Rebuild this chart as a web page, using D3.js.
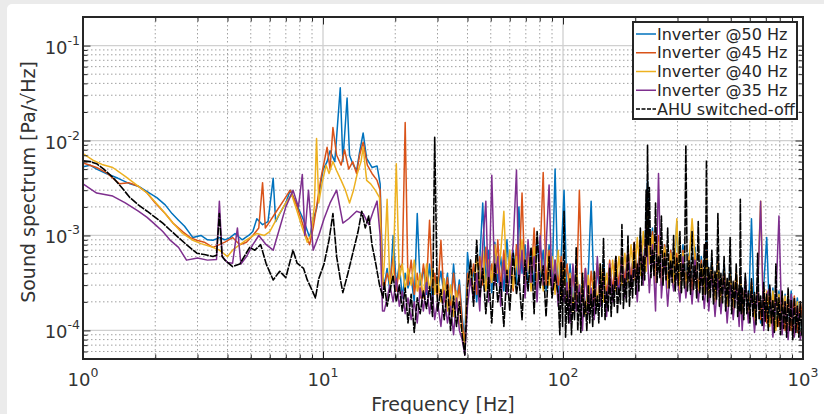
<!DOCTYPE html>
<html>
<head>
<meta charset="utf-8">
<script src="https://cdn.jsdelivr.net/npm/d3@7"></script>
<style>
  html, body { margin: 0; padding: 0; background: #ebebeb; }
  svg { display: block; font-family: "DejaVu Sans", sans-serif; }
</style>
</head>
<body>
<div id="chart"></div>
<script>
// all spectrum values are in units of 1e-4 Pa/√Hz
const seriesNames = ["Inverter @50 Hz", "Inverter @45 Hz", "Inverter @40 Hz", "Inverter @35 Hz", "AHU switched-off"];
const seriesColors = ["#0072BD", "#D95319", "#EDB120", "#7E2F8E", "#000000"];

const xTickValues = [1, 10, 100, 1000];
const yTickValues = [1e-4, 1e-3, 1e-2, 1e-1];

// low frequency part, [Hz, value]
const blueLow = [[1,53],[1.07,55],[1.14,50],[1.25,45],[1.4,40],[1.57,35],[1.7,33],[1.85,29],[2.03,25],[2.2,21],[2.35,17],[2.5,14.5],[2.65,12.5],[2.87,9.5],[3.1,10],[3.3,9],[3.48,8.9],[3.7,9.5],[3.9,9],[4.1,9.5],[4.3,10.5],[4.6,9],[4.9,10],[5.1,11],[5.3,15],[5.6,13],[5.9,14],[6.2,40],[6.35,14],[6.6,17],[7.0,22],[7.3,30],[7.6,24],[8.0,18],[8.3,14.5],[8.8,9.5],[9.1,15],[9.4,19],[10,49],[10.4,60],[10.7,78],[11.2,60],[11.8,360],[12.1,60],[12.6,280],[12.9,70],[13.3,57],[13.8,48],[14.2,75],[14.7,120],[15.2,65],[16,52],[16.8,54],[17.3,35],[17.7,4]];
const orangeLow = [[1,58],[1.07,55],[1.14,52],[1.25,46],[1.42,35],[1.55,36],[1.7,33],[1.85,28],[2.0,22],[2.2,17],[2.37,13.5],[2.6,11],[2.8,9.5],[2.98,8.9],[3.2,8.5],[3.48,7.5],[3.7,8],[3.9,8.5],[4.2,9.5],[4.5,8],[4.8,8.5],[5.1,10],[5.4,12],[5.6,36],[5.75,12],[6.0,14],[6.4,18],[6.9,24],[7.3,30],[7.7,22],[8.1,15],[8.5,10],[8.8,8],[9.1,12],[9.4,20],[9.8,40],[10.4,85],[10.7,50],[11,137],[11.4,70],[11.9,55],[12.3,80],[12.8,50],[13.3,60],[13.8,45],[14.2,70],[14.7,96],[15.3,55],[16,45],[16.8,38],[17.3,30],[17.7,3.5]];
const yellowLow = [[1,73],[1.1,62],[1.2,56],[1.33,52],[1.5,42],[1.65,35],[1.85,28],[2.05,21],[2.2,17],[2.37,13.5],[2.6,10.5],[2.87,8.9],[3.1,8.2],[3.48,7.5],[3.7,7],[4.0,6],[4.2,7],[4.5,8],[4.8,9],[5.3,10.5],[5.7,10],[6.0,11],[6.5,16],[7.0,22],[7.4,27],[7.8,18],[8.2,12],[8.6,8.5],[8.9,10],[9.2,20],[9.4,105],[9.6,22],[9.9,35],[10.3,55],[10.6,45],[11,60],[11.4,48],[11.9,38],[12.4,30],[12.9,22],[13.4,30],[13.9,45],[14.4,60],[14.7,85],[15.2,38],[15.8,35],[16.5,30],[17.2,25],[17.7,3.0]];
const purpleLow = [[1,35],[1.14,28],[1.33,26],[1.5,22],[1.7,18],[1.85,15.5],[2.0,13],[2.15,11],[2.3,9],[2.5,7.5],[2.7,5.5],[3.0,5.8],[3.3,5.5],[3.6,5.6],[3.7,23],[3.8,6],[4.0,5.2],[4.2,5.1],[4.4,12],[4.55,5],[4.8,6],[5.1,8],[5.4,10],[5.8,8],[6.2,7],[6.6,12],[7.0,20],[7.5,30],[7.9,20],[8.2,44],[8.4,10],[8.7,30],[9.1,7],[9.6,10],[10.1,15],[10.7,22],[11.4,30],[12.1,13.5],[12.8,15],[13.8,18],[14.7,17],[15.5,13],[16.2,18],[16.8,23],[17.3,10],[17.7,1.6]];
const blackLow = [[1,61],[1.07,60],[1.14,57],[1.22,50],[1.33,41],[1.45,32],[1.57,25],[1.7,21],[1.85,18],[2.0,15.5],[2.15,13.5],[2.3,11.5],[2.5,9.5],[2.7,8],[2.98,6.5],[3.2,6.3],[3.48,6],[3.6,6.2],[3.7,17],[3.8,6],[3.9,5.5],[4.2,4.7],[4.5,5],[4.95,7.5],[5.2,7],[5.5,8],[5.8,5],[6.2,3.4],[6.6,4.2],[7.0,3.6],[7.5,7],[7.8,5.1],[8.3,4.5],[8.6,3.4],[9.1,2.5],[9.3,2.2],[9.6,3.5],[10.1,5],[10.6,9],[11,17],[11.4,6],[11.8,3.5],[12.1,2.5],[12.7,4],[13.4,7],[14,11],[14.5,18],[15,12],[15.5,16],[16,8],[16.6,5],[17.2,3],[17.8,2.2]];

// high frequency part, shared frequency bins
const hfFreq = [18,18.5,19,19.6,20.2,20.8,21.4,22,22.6,23.3,
  24,24.7,25.4,26.2,27,27.8,28.6,29.2,30,31,
  32,33,34,35,36,37,38,39,40,41.2,
  42.4,43.7,45,46.3,47.7,49,50.5,52,53.5,55,
  56.7,58.4,60,62,64,65.5,67.5,69.5,71.5,73.6,
  75.8,78,80.3,82.7,85,87.5,90,92.7,95.5,98.3,
  101,104,107,110,113.5,117,120.5,124,127.5,131,
  135,139,143,147.5,152,156.5,161,166,171,176,
  181,186.5,192,198,204,210,216,222,225,229,
  236,243,250,257,265,273,281,289,298,307,
  316,325,335,345,355,366,377,388,396,405,
  417,430,442,455,469,483,497,512,527,542,
  548,558,575,592,610,628,647,666,686,706,
  727,749,771,794,818,842,867,893,920,947,975,1000];
const blueHigh = [3.0,4.5,2.6,10,3.0,5.0,2.2,4.0,2.8,3.6,
  2.0,17,3.0,4.5,2.4,5.0,2.0,3.8,2.6,4.2,
  2.2,4.0,1.8,5.0,2.0,3.4,1.4,0.8,6.6,3.0,
  4.2,2.0,5.5,22,3.0,7.0,2.5,8.5,3.2,6.0,
  2.6,9.0,3.5,7.0,3.0,20,4.0,8.0,2.8,6.5,
  3.0,9.5,3.6,7.0,2.6,8.0,3.0,50,2.4,6.0,
  30,2.2,5.0,1.8,4.5,2.0,3.6,1.6,4.0,23,
  2.0,4.5,1.8,5.5,2.2,4.0,2.6,6.0,2.4,7.0,
  3.0,6.5,3.2,8.0,3.5,10,4.0,14,38,6.0,
  12,3.5,9.0,3.0,8.0,3.2,7.0,2.8,14,3.0,
  8.0,3.2,6.5,2.8,7.5,2.6,6.0,2.4,9.0,2.6,
  5.5,2.2,6.0,2.0,5.0,1.8,4.5,1.7,4.0,1.6,
  4.2,1.5,3.6,1.4,15,1.3,3.2,1.2,3.0,9.5,
  1.2,2.8,1.1,2.6,1.0,2.4,1.0,2.6,0.95,2.2,0.9,1.3];
const orangeHigh = [2.8,4.0,3.2,6.0,2.6,4.5,5.0,155,3.0,5.5,
  2.4,4.0,2.2,5.0,3.0,14.5,2.6,4.0,2.2,8.9,
  2.0,3.6,1.6,4.0,1.8,3.0,1.2,0.7,4.0,3.0,
  5.0,2.4,6.0,3.0,7.5,2.6,5.0,3.2,9.0,2.8,
  7.0,3.0,6.0,2.6,8.0,3.4,28,3.0,7.5,3.2,
  12,2.8,6.5,46,3.0,7.0,2.6,5.5,3.0,6.0,
  3.0,5.0,2.2,4.0,1.8,30,2.0,4.5,1.6,4.2,
  2.0,5.0,2.2,4.5,2.4,5.5,2.6,6.0,3.0,6.5,
  3.2,7.0,3.4,8.5,3.6,9.0,4.0,12,20,5.5,
  11,3.5,10,3.2,8.0,3.0,7.0,3.2,6.5,2.8,
  7.0,3.0,6.0,2.6,6.5,2.8,5.5,2.4,7.0,2.4,
  5.0,2.2,5.5,2.0,4.5,1.9,4.0,1.8,4.2,1.6,
  3.8,1.5,3.4,1.4,3.2,1.3,3.0,1.3,2.8,1.2,
  2.8,1.1,2.6,1.1,2.5,1.0,2.4,1.0,2.3,0.95,2.0,1.2];
const yellowHigh = [5.0,24,3.0,4.0,57,3.5,5.0,2.6,4.5,3.0,
  5.5,2.6,4.0,2.2,5.0,2.6,4.5,2.4,3.6,2.0,
  3.5,1.6,3.0,1.4,2.6,1.2,1.0,0.65,3.0,4.5,
  2.4,6.0,3.0,7.0,2.6,5.5,3.2,8.0,4.0,6.5,
  18,3.0,7.0,2.8,6.0,3.6,9.0,3.0,6.0,2.6,
  7.5,3.2,5.5,2.6,8.5,3.0,6.0,2.4,7.0,2.2,
  5.0,2.0,4.0,1.6,4.5,2.2,3.2,1.5,3.8,1.8,
  4.2,1.9,5.0,2.0,4.0,2.4,5.5,2.6,6.0,3.0,
  6.5,3.2,8.0,3.4,9.5,3.8,11,4.2,22,5.0,
  10,3.2,8.5,3.0,7.5,2.8,6.5,3.0,15,2.6,
  6.5,2.8,5.5,15,6.0,2.6,5.0,2.4,6.5,2.2,
  4.8,2.0,5.0,1.9,4.2,1.8,3.8,1.6,4.0,1.5,
  3.6,1.4,3.2,1.3,3.0,1.2,2.8,23,1.2,2.6,
  1.1,2.6,1.0,2.4,1.0,2.3,0.95,2.2,0.9,2.0,0.85,1.1];
const purpleHigh = [1.6,2.2,3.0,2.0,3.5,1.8,2.6,1.5,2.2,1.3,
  2.0,1.2,2.8,1.6,3.2,1.5,2.4,1.3,2.0,1.1,
  2.6,1.2,1.8,0.9,2.2,1.0,0.8,0.55,1.8,3.5,
  2.0,4.0,1.6,8.0,23,2.0,43,3.0,6.0,1.8,
  5.5,2.4,3.5,8.0,49,3.0,7.0,2.2,9.0,3.2,
  6.0,2.0,10,3.0,7.5,34,2.4,5.5,1.8,4.0,
  2.0,3.2,1.2,5.0,1.6,3.0,1.0,4.5,1.5,2.8,
  1.3,6.0,1.8,3.6,1.4,5.0,2.0,4.0,2.4,6.0,
  2.2,7.0,2.8,5.0,2.0,9.0,3.0,12,6.0,2.5,
  8.0,1.6,45,2.2,6.0,1.8,5.0,2.6,4.0,2.0,
  6.0,2.2,4.5,1.9,5.5,2.0,4.0,1.7,3.6,1.6,
  4.2,1.4,3.5,1.5,4.0,1.2,3.0,1.3,3.2,1.1,
  2.8,1.0,3.5,1.2,2.6,0.95,2.4,23,1.0,2.4,
  2.8,0.85,2.2,16,0.9,2.0,0.8,2.4,0.85,1.8,0.8,1.2];
const blackHigh = [3.2,1.8,2.6,3.8,2.0,3.0,1.6,2.8,1.2,2.4,
  0.95,2.2,1.5,2.6,1.7,2.9,1.4,108,1.6,2.7,
  1.3,3.0,1.0,2.3,1.1,2.0,0.9,0.55,2.8,5.5,
  1.8,8.9,2.2,4.5,1.5,3.6,1.2,5.0,2.0,3.2,
  1.1,4.3,1.6,6.5,2.4,3.8,1.3,5.5,2.6,7.5,
  1.5,11,2.8,4.8,1.4,6.0,2.2,3.9,2.4,5.2,
  18,2.6,3.5,2.2,7.4,2.5,4.0,2.0,3.0,2.4,
  4.2,2.3,5.0,9.3,2.6,4.5,3.0,6.0,2.8,13,
  3.5,10,3.8,8.5,5.0,12,6.0,30,89,32,
  7.0,22,6.0,16,6.5,12,5.5,10,5.8,11,
  5.0,89,5.4,11,4.8,14,5.0,8.0,62,4.6,
  7.0,4.2,17,4.0,6.0,3.6,9.5,3.3,5.0,3.0,
  24,2.8,4.0,2.6,3.5,2.5,6.5,2.3,3.2,2.4,
  3.0,2.1,5.0,2.2,2.6,2.0,2.8,2.1,2.2,1.8,2.0,1.6];
// extra bins of the switched-off curve, where its trace is densest, [Hz, value]
const blackDense = [[97,0.9],[99.6,1.1],[102.5,0.85],[105.5,1.2],[108.5,0.9],[111.7,1.3],[115.2,1.0],[118.7,0.95],[122.2,1.4],[125.7,1.0],
  [129.2,1.2],[133,1.1],[137,1.5],[141,1.2],[145.2,1.4],[149.7,1.3],[154.2,1.6],[158.7,1.4],[163.5,1.8],[168.5,1.5],
  [173.5,1.9],[178.5,1.7],[183.7,2.0],[189.2,1.8],[195,2.2],[201,2.4],[207,2.6],[213,3.0],[219,3.4],[223.5,6.0],
  [227,8.0],[232.5,3.6],[239.5,3.8],[246.5,3.2],[253.5,3.6],[261,3.0],[269,3.4],[277,2.8],[285,3.2],[293.5,2.6],
  [302.5,3.0],[311.5,2.5],[320.5,2.8],[330,2.6],[340,2.4],[350,2.7],[360.5,2.2],[371.5,2.5],[382.5,2.1],[392,2.4],
  [400.5,2.0],[411,2.2],[423.5,1.9],[436,2.1],[448.5,1.8],[462,1.9],[476,1.6],[490,1.8],[504.5,1.5],[519.5,1.7],
  [534.5,1.4],[545,1.6],[553,1.5],[566.5,1.3],[583.5,1.5],[601,1.2],[619,1.4],[637.5,1.15],[656.5,1.3],[676,1.1],
  [696,1.25],[716.5,1.0],[738,1.2],[760,0.95],[782.5,1.1],[806,0.9],[830,1.05],[854.5,0.85],[880,1.0],[906.5,0.8],
  [933.5,0.95],[961,0.85],[987.5,0.9]];

const lowParts = [blueLow, orangeLow, yellowLow, purpleLow, blackLow];
const highParts = [blueHigh, orangeHigh, yellowHigh, purpleHigh, blackHigh];
const extraParts = [[], [], [], [], blackDense];

const width = 824, height = 414;
const margin = { left: 83, right: 21, top: 17, bottom: 55 };

let svg = d3.select("#chart")
    .append("svg")
    .attr("width", width)
    .attr("height", height);

// white panel of the screenshot
svg.append("rect")
    .attr("x", 7).attr("y", 4)
    .attr("width", width).attr("height", height)
    .attr("rx", 5)
    .attr("fill", "#ffffff");

let x = d3.scaleLog().domain([1, 1000]).range([margin.left, width - margin.right]);
let y = d3.scaleLog().domain([5e-5, 0.2]).range([height - margin.bottom, margin.top]);

let isMajor = v => Math.abs(Math.log10(v) - Math.round(Math.log10(v))) < 1e-6;
let xMinor = x.ticks().filter(v => !isMajor(v));
let yMinor = y.ticks().filter(v => !isMajor(v));

let x0 = x.range()[0], x1 = x.range()[1];
let y0 = y.range()[1], y1 = y.range()[0];

// grid
let grid = svg.append("g");
grid.selectAll(".xminor").data(xMinor).enter().append("line")
    .attr("x1", d => x(d)).attr("x2", d => x(d))
    .attr("y1", y0).attr("y2", y1)
    .attr("stroke", "#a0a0a0").attr("stroke-width", 1)
    .attr("stroke-dasharray", "1.5,2.5");
grid.selectAll(".yminor").data(yMinor).enter().append("line")
    .attr("x1", x0).attr("x2", x1)
    .attr("y1", d => y(d)).attr("y2", d => y(d))
    .attr("stroke", "#a0a0a0").attr("stroke-width", 1)
    .attr("stroke-dasharray", "1.5,2.5");
grid.selectAll(".xmajor").data(xTickValues.slice(1, -1)).enter().append("line")
    .attr("x1", d => x(d)).attr("x2", d => x(d))
    .attr("y1", y0).attr("y2", y1)
    .attr("stroke", "#d0d0d0").attr("stroke-width", 1.3);
grid.selectAll(".ymajor").data(yTickValues).enter().append("line")
    .attr("x1", x0).attr("x2", x1)
    .attr("y1", d => y(d)).attr("y2", d => y(d))
    .attr("stroke", "#d0d0d0").attr("stroke-width", 1.3);

// curves
svg.append("clipPath").attr("id", "plotclip")
    .append("rect")
    .attr("x", x0).attr("y", y0)
    .attr("width", x1 - x0).attr("height", y1 - y0);

let line = d3.line()
    .x(d => x(d[0]))
    .y(d => y(d[1] * 1e-4));

let series = seriesNames.map((name, i) => ({
    name: name,
    color: seriesColors[i],
    points: lowParts[i]
        .concat(hfFreq.map((f, j) => [f, highParts[i][j]]))
        .concat(extraParts[i])
        .sort((a, b) => a[0] - b[0])
}));

svg.append("g")
    .attr("clip-path", "url(#plotclip)")
    .selectAll("path")
    .data(series)
    .enter().append("path")
    .attr("d", d => line(d.points))
    .attr("fill", "none")
    .attr("stroke", d => d.color)
    .attr("stroke-width", (d, i) => i === 4 ? 1.6 : 1.5)
    .attr("stroke-linejoin", "round")
    .attr("stroke-dasharray", (d, i) => i === 4 ? "8,1" : null);

// axes box with inside ticks (matlab style)
function addAxis(axisFn, scale, values, size, transform) {
    svg.append("g")
        .attr("transform", transform)
        .call(axisFn(scale).tickValues(values).tickSize(size).tickFormat(""))
        .call(g => g.select(".domain").remove())
        .selectAll("line").attr("stroke", "#262626").attr("stroke-width", 1);
}
addAxis(d3.axisBottom, x, xMinor, -4.5, `translate(0,${y1})`);
addAxis(d3.axisBottom, x, xTickValues, -7.5, `translate(0,${y1})`);
addAxis(d3.axisTop, x, xMinor, -4.5, `translate(0,${y0})`);
addAxis(d3.axisTop, x, xTickValues, -7.5, `translate(0,${y0})`);
addAxis(d3.axisLeft, y, yMinor, -4.5, `translate(${x0},0)`);
addAxis(d3.axisLeft, y, yTickValues, -7.5, `translate(${x0},0)`);
addAxis(d3.axisRight, y, yMinor, -4.5, `translate(${x1},0)`);
addAxis(d3.axisRight, y, yTickValues, -7.5, `translate(${x1},0)`);

svg.append("rect")
    .attr("x", x0).attr("y", y0)
    .attr("width", x1 - x0).attr("height", y1 - y0)
    .attr("fill", "none")
    .attr("stroke", "#262626")
    .attr("stroke-width", 2);

// tick labels 10^n
let labelColor = "#333333";
let xLabels = svg.append("g").selectAll("text")
    .data(xTickValues).enter().append("text")
    .attr("x", d => x(d))
    .attr("y", y1 + 27)
    .attr("text-anchor", "middle")
    .attr("fill", labelColor)
    .attr("font-size", 18);
xLabels.append("tspan").text("10");
xLabels.append("tspan")
    .attr("dy", -9).attr("font-size", 12.5)
    .text(d => Math.round(Math.log10(d)));

let yLabels = svg.append("g").selectAll("text")
    .data(yTickValues).enter().append("text")
    .attr("x", x0 - 3)
    .attr("y", d => y(d) + 8)
    .attr("text-anchor", "end")
    .attr("fill", labelColor)
    .attr("font-size", 18);
yLabels.append("tspan").text("10");
yLabels.append("tspan")
    .attr("dy", -9).attr("font-size", 12.5)
    .text(d => "-" + Math.abs(Math.round(Math.log10(d))));

// axis titles
svg.append("text")
    .attr("x", (x0 + x1) / 2)
    .attr("y", 411)
    .attr("text-anchor", "middle")
    .attr("fill", labelColor)
    .attr("font-size", 19)
    .text("Frequency [Hz]");

svg.append("text")
    .attr("transform", `translate(35,182) rotate(-90)`)
    .attr("text-anchor", "middle")
    .attr("fill", labelColor)
    .attr("font-size", 19)
    .text("Sound spectrum [Pa/√Hz]");

// legend
let legend = svg.append("g");
legend.append("rect")
    .attr("x", 633).attr("y", 22)
    .attr("width", 164).attr("height", 97)
    .attr("fill", "#ffffff")
    .attr("stroke", "#262626")
    .attr("stroke-width", 2);
let rows = legend.selectAll(".row")
    .data(series).enter().append("g")
    .attr("transform", (d, i) => `translate(0,${34 + i * 18.75})`);
rows.append("line")
    .attr("x1", 636).attr("x2", 656)
    .attr("stroke", d => d.color)
    .attr("stroke-width", 1.5)
    .attr("stroke-dasharray", (d, i) => i === 4 ? "4,1.5" : null);
rows.append("text")
    .attr("x", 657).attr("y", 5.5)
    .attr("fill", "#262626")
    .attr("font-size", 16)
    .text(d => d.name);
</script>
</body>
</html>
